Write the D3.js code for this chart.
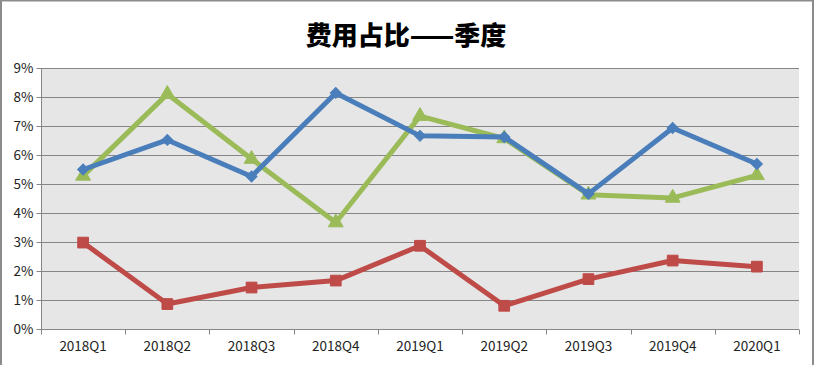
<!DOCTYPE html>
<html><head><meta charset="utf-8">
<script src="https://cdn.jsdelivr.net/npm/d3@7/dist/d3.min.js"></script>
<style>body{margin:0;background:#fff;}svg{display:block;}</style>
</head><body>
<svg id="c" width="815" height="365"></svg>
<script>
const categories = ["2018Q1","2018Q2","2018Q3","2018Q4","2019Q1","2019Q2","2019Q3","2019Q4","2020Q1"];
const blueValues  = [5.5, 6.52, 5.26, 8.14, 6.66, 6.62, 4.66, 6.93, 5.69];
const redValues   = [2.98, 0.86, 1.43, 1.67, 2.87, 0.8, 1.72, 2.36, 2.15];
const greenValues = [5.28, 8.1, 5.86, 3.67, 7.34, 6.57, 4.63, 4.52, 5.3];
const yTicks = [0,1,2,3,4,5,6,7,8,9];
const title = "费用占比——季度";

const svg = d3.select("#c");
const W = 815, H = 365;
const m = {left: 41, right: 799, top: 68, bottom: 329};

// outer frame
svg.append("rect").attr("x",1).attr("y",0.5).attr("width",812).attr("height",H+5)
  .attr("fill","none").attr("stroke","#8c8c8c").attr("stroke-width",2);

svg.append("text").attr("x",406).attr("y",45).attr("text-anchor","middle")
  .attr("font-family","'Noto Sans CJK SC', sans-serif").attr("font-weight","900")
  .attr("font-size",26).attr("fill","#000").text(title);

const x = d3.scaleBand().domain(categories).range([m.left, m.right]).padding(0);
const y = d3.scaleLinear().domain([0,9]).range([m.bottom, m.top]);

svg.append("rect").attr("x",m.left).attr("y",m.top).attr("width",m.right-m.left)
  .attr("height",m.bottom-m.top).attr("fill","#e6e6e6");

// gridlines
svg.append("g").selectAll("line").data(yTicks.filter(d=>d>0)).join("line")
  .attr("x1",m.left).attr("x2",m.right)
  .attr("y1",d=>Math.round(y(d))+0.5).attr("y2",d=>Math.round(y(d))+0.5)
  .attr("stroke","#868686").attr("stroke-width",1.2);

// y axis
const yAxis = d3.axisLeft(y).tickValues(yTicks).tickFormat(d=>d+"%").tickSize(5).tickPadding(3);
const gy = svg.append("g").attr("transform",`translate(${m.left+0.5},0)`).call(yAxis);
gy.select(".domain").attr("stroke","#868686").attr("d",`M0,${m.top}V${m.bottom}`);
gy.selectAll(".tick line").attr("stroke","#868686");
gy.selectAll("text").attr("font-family","'Noto Sans CJK SC', sans-serif").attr("font-size",13.5).attr("fill","#222");

// x axis
const xAxis = d3.axisBottom(x).tickSize(0).tickPadding(12);
const gx = svg.append("g").attr("transform",`translate(0,${m.bottom+0.5})`).call(xAxis);
gx.select(".domain").attr("stroke","#868686").attr("d",`M${m.left},0H${m.right}`);
gx.selectAll("text").attr("font-family","'Noto Sans CJK SC', sans-serif").attr("font-size",13.5).attr("fill","#222");
const bounds = categories.map(c=>x(c)).concat([m.right]);
gx.append("g").selectAll("line").data(bounds).join("line")
  .attr("x1",d=>Math.round(d)+0.5).attr("x2",d=>Math.round(d)+0.5).attr("y1",0).attr("y2",5)
  .attr("stroke","#868686");

const cx = c => x(c) + x.bandwidth()/2;
const line = d3.line().x((d,i)=>cx(categories[i])).y(d=>y(d));

const series = [
  {vals: greenValues, color:"#9bbb59", sym: d3.symbolTriangle, size: 95, rot: 0},
  {vals: blueValues,  color:"#4a7ebb", sym: d3.symbolSquare, size: 60, rot: 45},
  {vals: redValues,   color:"#be4b48", sym: d3.symbolSquare, size: 115, rot: 0}
];
series.forEach(s=>{
  svg.append("path").datum(s.vals).attr("d",line).attr("fill","none")
    .attr("stroke",s.color).attr("stroke-width",5).attr("stroke-linejoin","round");
  svg.append("g").selectAll("path").data(s.vals).join("path")
    .attr("d",d3.symbol().type(s.sym).size(s.size))
    .attr("transform",(d,i)=>`translate(${cx(categories[i])},${y(d)}) rotate(${s.rot})`)
    .attr("fill",s.color).attr("stroke",s.color).attr("stroke-width",1);
});
</script>
</body></html>
